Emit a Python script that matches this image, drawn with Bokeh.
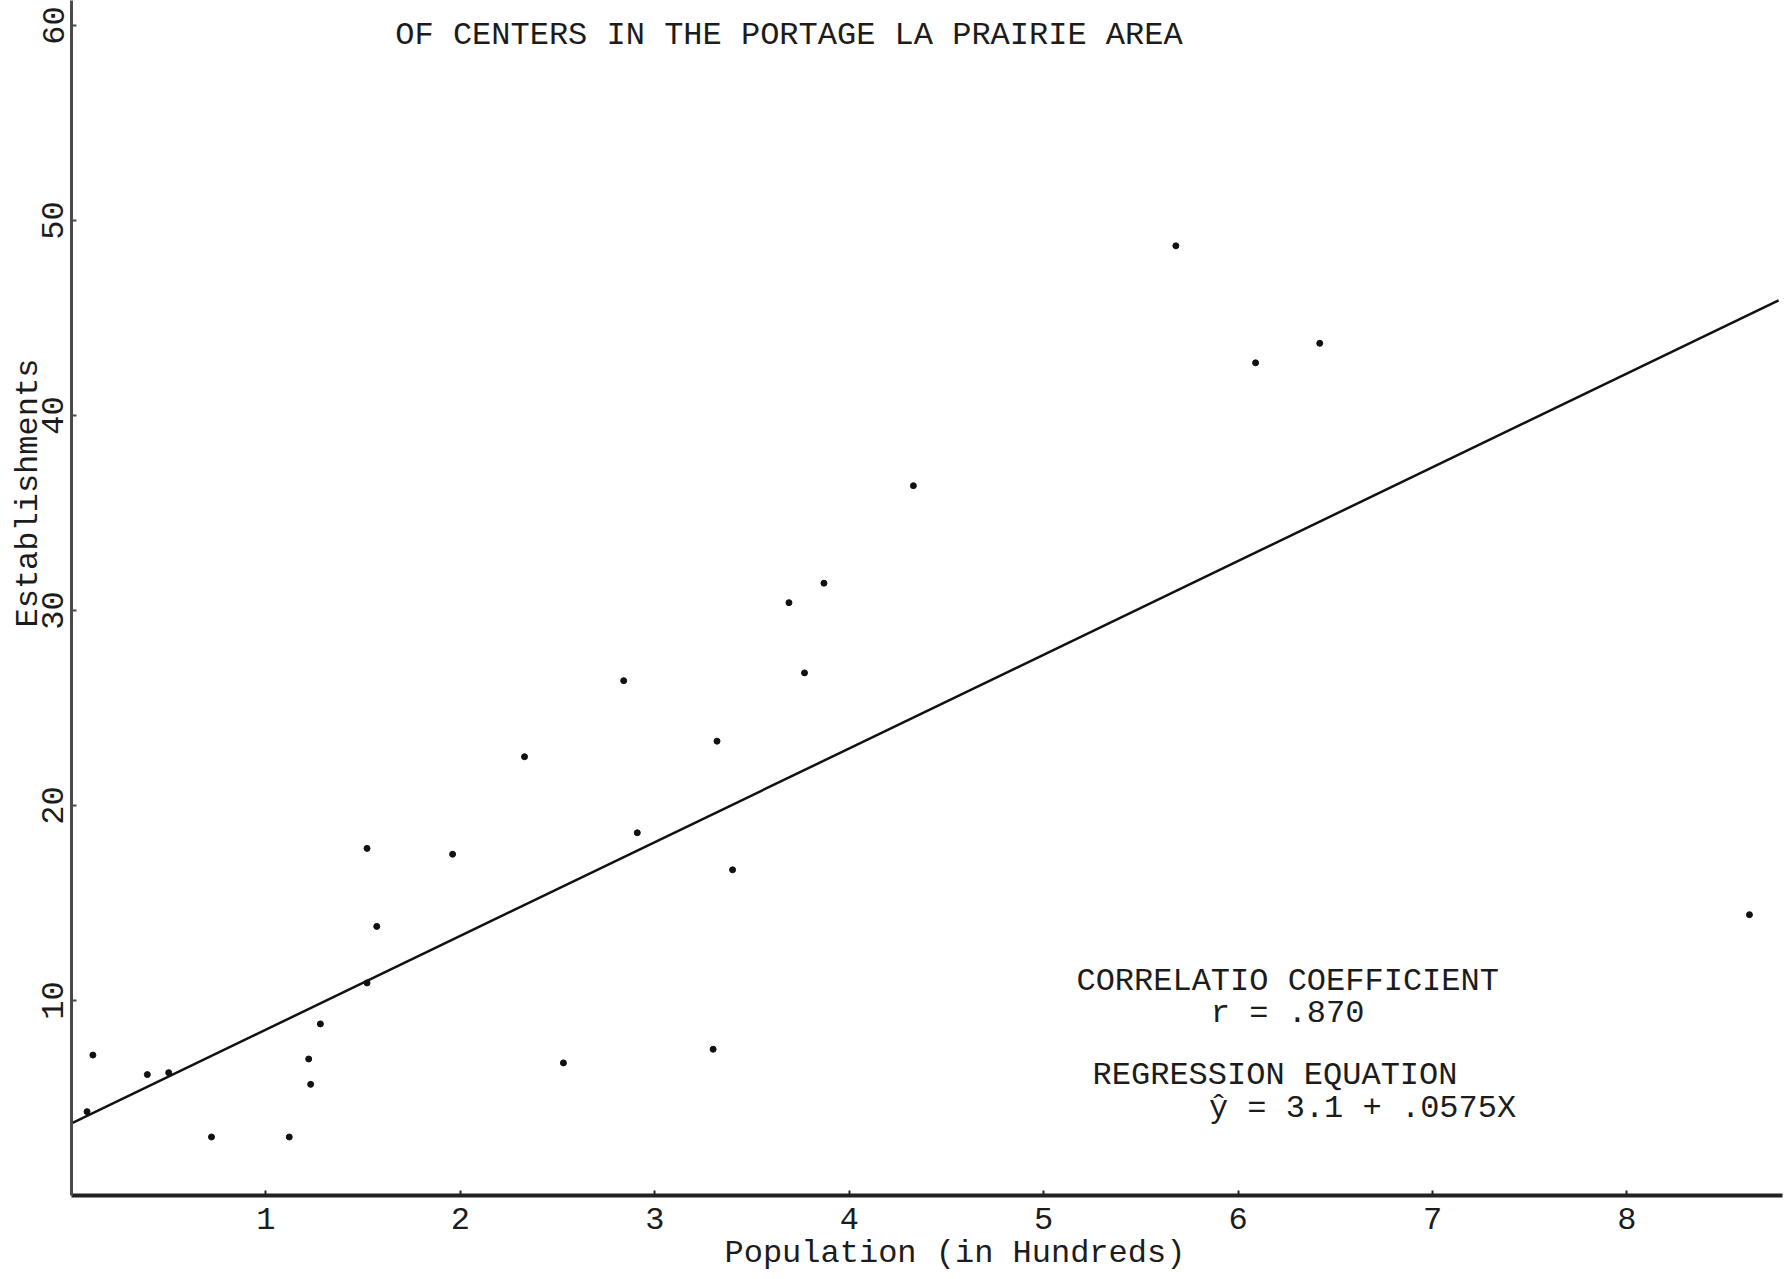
from bokeh.plotting import figure
from bokeh.models import Range1d, FixedTicker, Label, Title
from bokeh.embed import file_html
from bokeh.resources import INLINE

# ---- data ----
population_hundreds = [0.08, 0.11, 0.39, 0.50, 0.72, 1.12, 1.22, 1.23, 1.28, 1.52,
                       1.52, 1.57, 1.96, 2.33, 2.53, 2.84, 2.91, 3.30, 3.32, 3.40,
                       3.69, 3.77, 3.87, 4.33, 5.68, 6.09, 6.42, 8.63]
establishments = [4.3, 7.2, 6.2, 6.3, 3.0, 3.0, 7.0, 5.7, 8.8, 10.9,
                  17.8, 13.8, 17.5, 22.5, 6.8, 26.4, 18.6, 7.5, 23.3, 16.7,
                  30.4, 26.8, 31.4, 36.4, 48.7, 42.7, 43.7, 14.4]

line_x = [0.0, 8.78]
line_y = [3.7, 45.9]

x_ticks = [1, 2, 3, 4, 5, 6, 7, 8]
y_ticks = [10, 20, 30, 40, 50, 60]

title_text = "OF CENTERS IN THE PORTAGE LA PRAIRIE AREA"
x_label = "Population (in Hundreds)"
y_label = "Establishments"
note_lines = ["CORRELATIO COEFFICIENT", "r = .870", "REGRESSION EQUATION", "\u0177 = 3.1 + .0575X"]

FONT = "Liberation Mono"
INK = "#1c1c1c"

p = figure(width=1784, height=1276, output_backend="svg", toolbar_location=None,
           x_range=Range1d(0, 8.80), y_range=Range1d(0, 61.28),
           min_border_left=71, min_border_right=2, min_border_top=0, min_border_bottom=81)
p.background_fill_color = "white"
p.border_fill_color = "white"
p.outline_line_color = None
p.grid.visible = False
p.title.visible = False

for ax in (p.xaxis[0], p.yaxis[0]):
    ax.major_tick_in = 5
    ax.major_tick_out = 0
    ax.major_tick_line_width = 2
    ax.minor_tick_line_color = None
    ax.major_label_text_font = FONT
    ax.major_label_text_font_size = "32px"
    ax.major_label_text_color = INK

p.xaxis[0].axis_line_width = 4
p.xaxis[0].axis_line_color = "#222222"
p.xaxis[0].major_tick_line_color = "#222222"
p.yaxis[0].axis_line_width = 3
p.yaxis[0].axis_line_color = "#4a4a4a"
p.yaxis[0].major_tick_line_color = "#4a4a4a"

p.xaxis[0].ticker = FixedTicker(ticks=x_ticks)
p.yaxis[0].ticker = FixedTicker(ticks=y_ticks)
p.xaxis[0].major_label_standoff = 12
p.yaxis[0].major_label_standoff = 8
p.yaxis[0].major_label_orientation = "vertical"

p.add_layout(Title(text=x_label, align="left", offset=653, standoff=2,
                   text_font=FONT, text_font_size="32px", text_font_style="normal",
                   text_color=INK), "below")
p.add_layout(Title(text=y_label, align="left", offset=568, standoff=-14,
                   text_font=FONT, text_font_size="32px", text_font_style="normal",
                   text_color=INK), "left")

p.line(line_x, line_y, line_color="#111111", line_width=2.5)
p.scatter(population_hundreds, establishments, size=6, fill_color="#111111", line_color="#111111")

p.add_layout(Label(x=3.69, y=59.5, text=title_text, text_font=FONT, text_font_size="32px",
                   text_color=INK, text_align="center", text_baseline="middle"))

note_pos = [(6.255, 10.97), (6.255, 9.33), (6.19, 6.15), (6.64, 4.46)]
for (nx, ny), t in zip(note_pos, note_lines):
    p.add_layout(Label(x=nx, y=ny, text=t, text_font=FONT, text_font_size="32px",
                       text_color=INK, text_align="center", text_baseline="middle"))

open("out.html", "w").write(file_html(p, INLINE))
